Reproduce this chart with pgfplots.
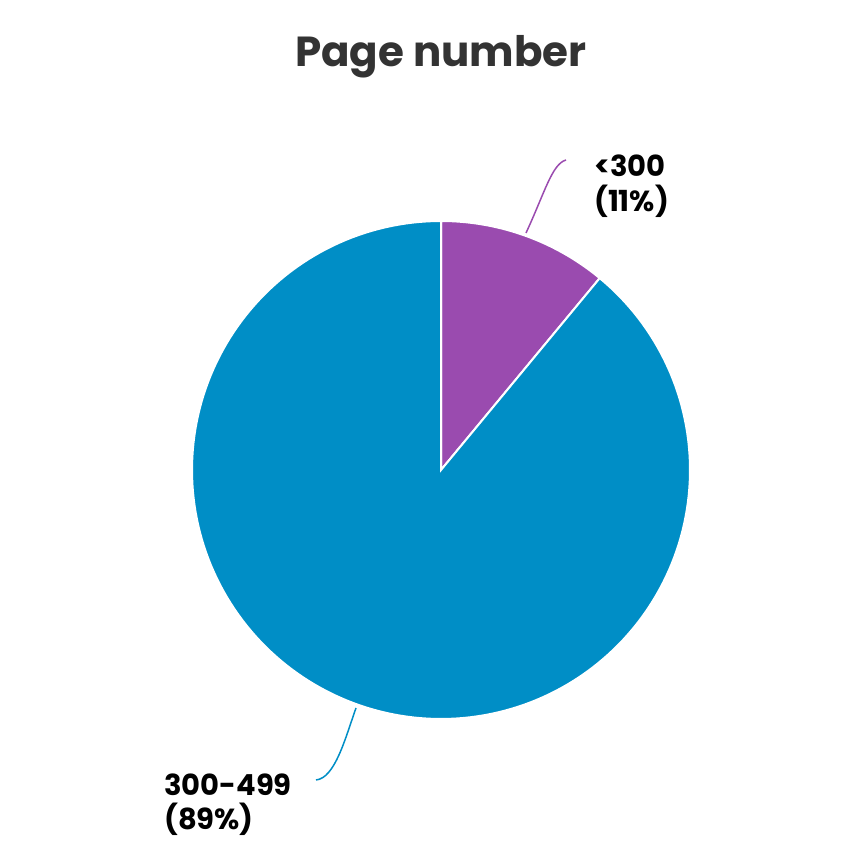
\documentclass[border=0pt]{standalone}
\usepackage{pgfplots}
\pgfplotsset{compat=1.18}
\usepackage{fontspec}
\setmainfont{Poppins}
\definecolor{cpurple}{HTML}{9A4BAF}
\definecolor{cblue}{HTML}{008EC6}
\definecolor{ctitle}{HTML}{333333}
% data (percent)
\def\vA{11}
\def\vB{89}
\begin{document}
\begin{tikzpicture}
\begin{axis}[
  width=864pt, height=864pt, scale only axis,
  xmin=0, xmax=864, ymin=0, ymax=864,
  hide axis, clip=false,
]
\path (axis cs:0,0) rectangle (axis cs:864,864);
\pgfmathsetmacro{\aA}{90-3.6*\vA}
\pgfmathsetmacro{\aB}{\aA-3.6*\vB}
% <300 wedge
\addplot[fill=cpurple, draw=white, line width=2pt, domain=90:\aA, samples=60]
  ({441+249*cos(x)},{394+249*sin(x)}) -- (axis cs:441,394) -- cycle;
% 300-499 wedge
\addplot[fill=cblue, draw=white, line width=2pt, domain=\aA:\aB, samples=200]
  ({441+249*cos(x)},{394+249*sin(x)}) -- (axis cs:441,394) -- cycle;
% leader lines
\draw[cpurple, line width=1.5pt] (axis cs:526,631) .. controls (axis cs:545,672) and (axis cs:552,700) .. (axis cs:566,704);
\draw[cblue, line width=1.5pt] (axis cs:356,156) .. controls (axis cs:345,125) and (axis cs:335,86) .. (axis cs:316,84);
% labels
\node[anchor=base west, inner sep=0, align=left, font=\fontsize{29}{35}\selectfont\bfseries] at (axis cs:594,652) {<300\\(11\%)};
\node[anchor=base west, inner sep=0, align=left, font=\fontsize{29}{35}\selectfont\bfseries] at (axis cs:164,34) {300-499\\(89\%)};
% title
\node[anchor=base, inner sep=0, text=ctitle, font=\fontsize{42}{50}\selectfont\bfseries] at (axis cs:441,797) {Page number};
\end{axis}
\end{tikzpicture}
\end{document}
